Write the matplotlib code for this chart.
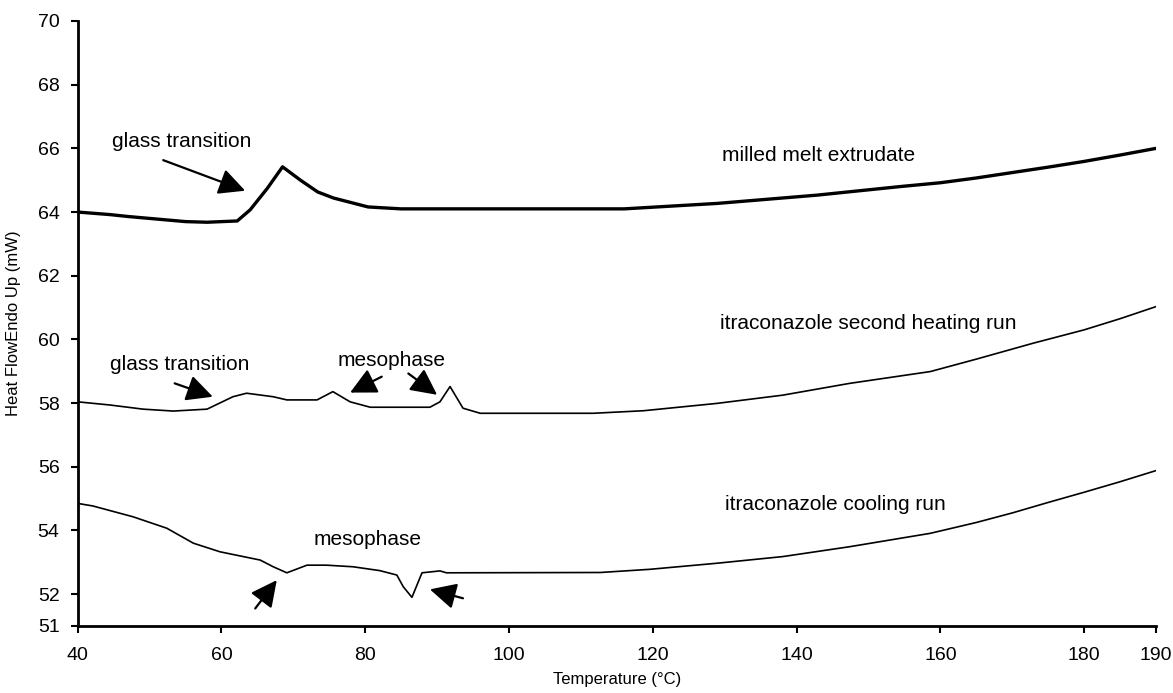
import numpy as np
import matplotlib
matplotlib.use("Agg")
import matplotlib.pyplot as plt

plt.rcParams['font.family'] = ['Liberation Sans', 'DejaVu Sans']

# milled melt extrudate (thick trace)
t_melt = [40, 44.5, 47, 51, 55, 58, 62.2, 64, 66.4, 68.5, 71, 73.4, 75.6, 80.4, 85, 100, 116, 128.9, 142.8, 154.4, 160, 165, 170, 175, 180, 185, 190]
hf_melt = [64.0, 63.92, 63.86, 63.78, 63.70, 63.68, 63.72, 64.07, 64.75, 65.42, 65.0, 64.63, 64.44, 64.16, 64.1, 64.1, 64.1, 64.27, 64.53, 64.80, 64.92, 65.07, 65.24, 65.41, 65.59, 65.79, 66.0]

# itraconazole second heating run
t_heat = [40, 44.5, 49.1, 53.3, 58, 61.6, 63.5, 67.2, 69.1, 73.3, 75.5, 77.9, 80.7, 89, 90.4, 91.8, 93.6, 96, 111.7, 118.7, 128.9, 138.1, 147.4, 158.6, 165, 172.9, 180, 185, 190]
hf_heat = [58.04, 57.94, 57.81, 57.75, 57.81, 58.2, 58.31, 58.2, 58.1, 58.1, 58.36, 58.04, 57.87, 57.87, 58.04, 58.52, 57.84, 57.68, 57.68, 57.76, 57.99, 58.25, 58.62, 58.99, 59.38, 59.88, 60.3, 60.65, 61.03]

# itraconazole cooling run
t_cool = [40, 42.1, 47.7, 52.4, 56.1, 59.8, 65.4, 67.2, 69.1, 71.9, 74.6, 78.3, 82, 84.4, 85.3, 86.5, 87.9, 90.4, 91.3, 112.7, 119.6, 128.9, 138.1, 147.4, 158.6, 165, 170, 175, 180, 185, 190]
hf_cool = [54.85, 54.77, 54.43, 54.07, 53.60, 53.33, 53.07, 52.86, 52.67, 52.91, 52.91, 52.86, 52.74, 52.6, 52.23, 51.90, 52.67, 52.73, 52.67, 52.68, 52.78, 52.97, 53.18, 53.49, 53.91, 54.25, 54.55, 54.88, 55.2, 55.53, 55.88]

x_ticks = [40, 60, 80, 100, 120, 140, 160, 180, 190]
y_ticks = [51, 52, 54, 56, 58, 60, 62, 64, 66, 68, 70]

# annotations: text, text position, arrows (tail -> tip)
notes = [
    ("glass transition", (44.8, 66.2), [((51.9, 65.63), (63.3, 64.67))]),
    ("glass transition", (44.5, 59.2), [((53.5, 58.62), (58.8, 58.2))]),
    ("mesophase", (76.1, 59.35), [((82.3, 58.83), (77.9, 58.33)), ((86.0, 58.93), (90.0, 58.26))]),
    ("mesophase", (72.8, 53.72), [((64.7, 51.55), (67.7, 52.44)), ((93.6, 51.87), (89.0, 52.15))]),
]
curve_labels = [
    ("milled melt extrudate", (129.6, 65.79)),
    ("itraconazole second heating run", (129.4, 60.5)),
    ("itraconazole cooling run", (130.0, 54.8)),
]

fig = plt.figure(figsize=(11.73, 6.93), dpi=100)
ax = fig.add_axes([0.0662, 0.0967, 0.9193, 0.873])

ax.plot(t_melt, hf_melt, color='black', lw=2.4)
ax.plot(t_heat, hf_heat, color='black', lw=1.2)
ax.plot(t_cool, hf_cool, color='black', lw=1.2)

for txt, pos, arrows in notes:
    ax.text(pos[0], pos[1], txt, fontsize=15, va='center', ha='left')
    for tail, tip in arrows:
        ax.annotate("", xy=tip, xytext=tail,
                    arrowprops=dict(arrowstyle='-|>,head_length=1.0,head_width=0.5',
                                    mutation_scale=16, lw=1.6, color='black',
                                    shrinkA=0, shrinkB=0))

for txt, pos in curve_labels:
    ax.text(pos[0], pos[1], txt, fontsize=15, va='center', ha='left')

ax.set_xlim(40, 190)
ax.set_ylim(51, 70)
ax.set_xticks(x_ticks)
ax.set_yticks(y_ticks)
ax.tick_params(labelsize=14, direction='out', length=5, width=1.5)
ax.tick_params(axis='x', pad=10)
ax.tick_params(axis='y', pad=8)
ax.spines['top'].set_visible(False)
ax.spines['right'].set_visible(False)
ax.spines['left'].set_linewidth(2)
ax.spines['bottom'].set_linewidth(2)

ax.set_xlabel("Temperature (°C)", fontsize=12, labelpad=6)
ax.set_ylabel("Heat FlowEndo Up (mW)", fontsize=12, labelpad=12)

fig.savefig("out.png", dpi=100)
